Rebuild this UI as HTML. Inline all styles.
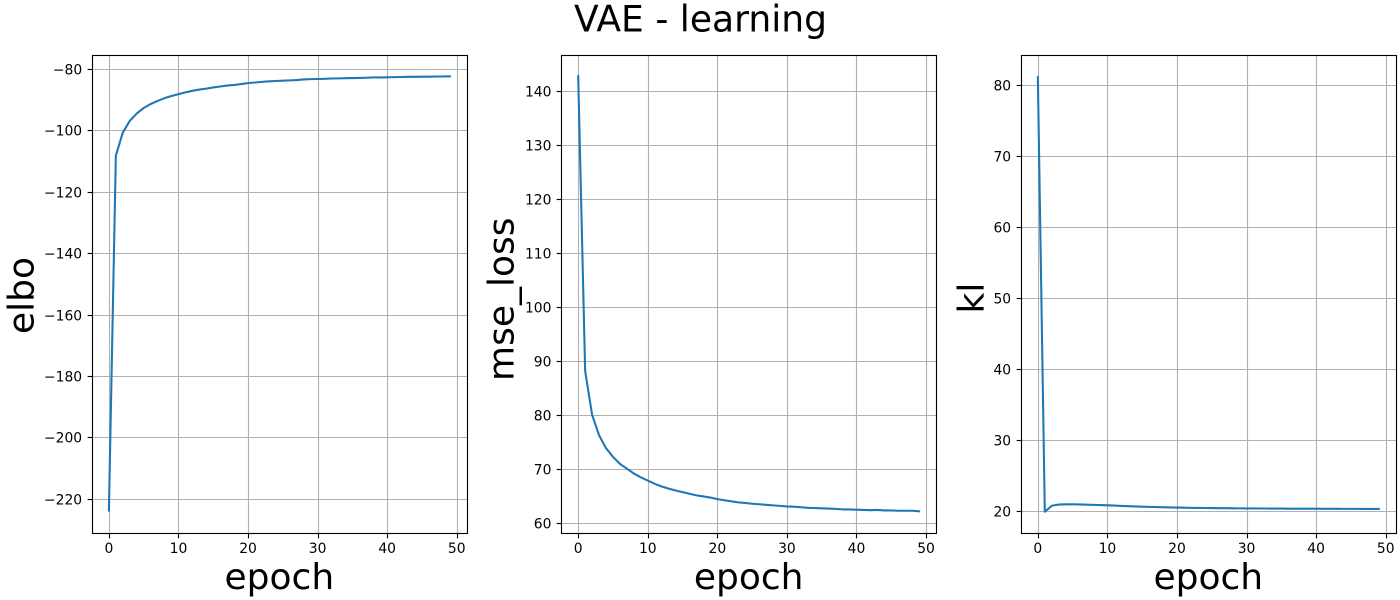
<!DOCTYPE html>
<html lang="en">
<head>
<meta charset="utf-8">
<title>VAE - learning</title>
<style>
html,body{margin:0;padding:0;background:#fff;width:1400px;height:600px;overflow:hidden}
svg{display:block;font-family:"DejaVu Sans","Liberation Sans",sans-serif}
</style>
</head>
<body>
<svg id="figure" width="1400" height="600" viewBox="0 0 1400 600" xmlns="http://www.w3.org/2000/svg">
<text x="700.5" y="31.5" font-size="36.1" text-anchor="middle" fill="#000">VAE - learning</text>
</svg>
<script>
const epochs = [0,1,2,3,4,5,6,7,8,9,10,11,12,13,14,15,16,17,18,19,20,21,22,23,24,25,26,27,28,29,30,31,32,33,34,35,36,37,38,39,40,41,42,43,44,45,46,47,48,49];
const elboValues = [-223.5,-107.9,-100.4,-96.6,-94.2,-92.4,-91.1,-90.1,-89.2,-88.5,-87.9,-87.3,-86.8,-86.4,-86.1,-85.7,-85.4,-85.1,-84.9,-84.6,-84.3,-84.1,-83.9,-83.7,-83.6,-83.5,-83.4,-83.3,-83.1,-83,-82.95,-82.9,-82.8,-82.75,-82.7,-82.65,-82.6,-82.55,-82.45,-82.45,-82.4,-82.35,-82.3,-82.25,-82.25,-82.2,-82.2,-82.15,-82.15,-82.1];
const mseValues = [143,88.3,80.2,76.4,74,72.4,71.1,70.2,69.3,68.6,68,67.4,66.9,66.5,66.15,65.85,65.55,65.25,65.05,64.85,64.55,64.35,64.15,63.95,63.85,63.7,63.6,63.5,63.4,63.3,63.2,63.15,63.05,62.95,62.9,62.85,62.8,62.75,62.65,62.65,62.6,62.55,62.5,62.55,62.45,62.45,62.4,62.4,62.4,62.3];
const klValues = [81.3,20.05,20.9,21.07,21.1,21.1,21.08,21.05,21.02,20.99,20.96,20.92,20.87,20.84,20.8,20.77,20.74,20.71,20.69,20.66,20.64,20.62,20.6,20.59,20.58,20.57,20.56,20.55,20.54,20.53,20.52,20.52,20.51,20.51,20.5,20.5,20.49,20.49,20.48,20.48,20.48,20.47,20.47,20.47,20.46,20.46,20.46,20.45,20.45,20.45];
const xTicks = [0,10,20,30,40,50];
const elboTicks = [-220,-200,-180,-160,-140,-120,-100,-80];
const mseTicks = [60,70,80,90,100,110,120,130,140];
const klTicks = [20,30,40,50,60,70,80];
const xLimits = [-2.45,51.45];
const elboLimits = [-230.98,-75.32];
const mseLimits = [58.17,146.83];
const klLimits = [16.98,84.35];

const NS = 'http://www.w3.org/2000/svg';
const fig = document.getElementById('figure');
const TOP = 55.55, BOTTOM = 533.55, WIDTH = 375;

function make(tag, attrs, parent, text) {
  const el = document.createElementNS(NS, tag);
  for (const k in attrs) el.setAttribute(k, attrs[k]);
  if (text !== undefined) el.textContent = text;
  parent.appendChild(el);
  return el;
}
function snapX(v) { return Math.floor(v + 0.5) + 0.5; }
function snapY(v) { return 600 - (Math.floor(600 - v + 0.5) + 0.5); }
function fmt(v) { return String(v).replace('-', '\u2212'); }

function drawPanel(name, left, values, yTicks, yLimits, yLabel, yLabelX, yLabelY) {
  const right = left + WIDTH;
  const xScale = v => left + (v - xLimits[0]) / (xLimits[1] - xLimits[0]) * WIDTH;
  const yScale = v => BOTTOM - (v - yLimits[0]) / (yLimits[1] - yLimits[0]) * (BOTTOM - TOP);
  const frameL = snapX(left), frameR = snapX(right), frameT = snapY(TOP), frameB = snapY(BOTTOM);

  const g = make('g', {}, fig);
  
  

  xTicks.forEach(t => {
    const x = snapX(xScale(t));
    const grid = make('line', {x1: x, x2: x, y1: frameT, y2: frameB, stroke: '#b0b0b0', 'stroke-width': 1.11}, g);
    
    
    const tick = make('line', {x1: x, x2: x, y1: frameB, y2: frameB + 4.86, stroke: '#000', 'stroke-width': 1.11}, g);
    
    
    const lab = make('text', {x: xScale(t), y: 553, 'font-size': 13.89, 'text-anchor': 'middle', fill: '#000'}, g, fmt(t));
    
    
  });

  yTicks.forEach(t => {
    const y = snapY(yScale(t));
    const grid = make('line', {x1: frameL, x2: frameR, y1: y, y2: y, stroke: '#b0b0b0', 'stroke-width': 1.11}, g);
    
    
    const tick = make('line', {x1: frameL - 4.86, x2: frameL, y1: y, y2: y, stroke: '#000', 'stroke-width': 1.11}, g);
    
    
    const lab = make('text', {x: left - 9.7, y: y + 5.1, 'font-size': 13.89, 'text-anchor': 'end', fill: '#000'}, g, fmt(t));
    
    
  });

  const pts = values.map((v, i) => xScale(epochs[i]).toFixed(2) + ',' + yScale(v).toFixed(2)).join(' ');
  const line = make('polyline', {points: pts, fill: 'none', stroke: '#1f77b4', 'stroke-width': 2.08, 'stroke-linejoin': 'round', 'stroke-linecap': 'square'}, g);
  
  

  const frame = make('rect', {x: frameL, y: frameT, width: frameR - frameL, height: frameB - frameT, fill: 'none', stroke: '#000', 'stroke-width': 1.11}, g);
  
  

  const xl = make('text', {x: left + WIDTH / 2, y: 589, 'font-size': 36, 'text-anchor': 'middle', fill: '#000'}, g, 'epoch');
  
  

  const yl = make('text', {x: yLabelX, y: yLabelY, 'font-size': 36, 'text-anchor': 'middle', fill: '#000', transform: 'rotate(-90 ' + yLabelX + ' ' + yLabelY + ')'}, g, yLabel);
  
  
}

drawPanel('elbo', 91.85, elboValues, elboTicks, elboLimits, 'elbo', 33.3, 295.5);
drawPanel('mse', 561.15, mseValues, mseTicks, mseLimits, 'mse_loss', 513.3, 299.2);
drawPanel('kl', 1020.8, klValues, klTicks, klLimits, 'kl', 983.3, 298);
</script>
</body>
</html>
